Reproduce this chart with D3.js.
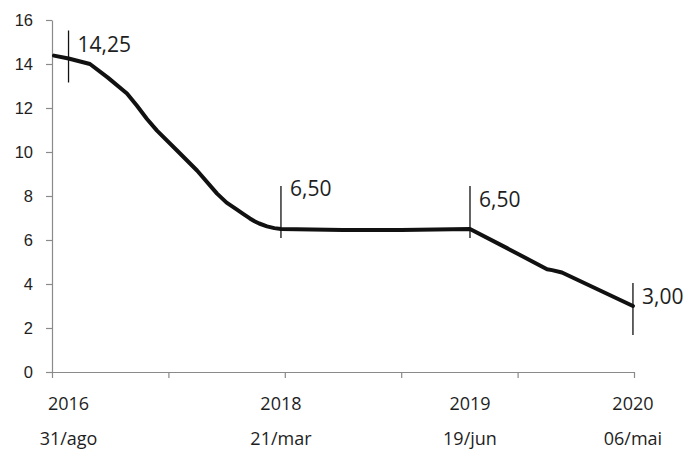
<!DOCTYPE html>
<html>
<head>
<meta charset="utf-8">
<script src="https://cdn.jsdelivr.net/npm/d3@7"></script>
<style>
  html, body { margin: 0; padding: 0; background: #fff; }
  svg { display: block; font-family: "Open Sans", "Liberation Sans", sans-serif; }
</style>
</head>
<body>
<svg id="chart" width="686" height="449"></svg>
<script>
// Selic path along a category-style axis (5 equal intervals between tick marks)
const xTicks = [0, 1, 2, 3, 4, 5];
const yTicks = [0, 2, 4, 6, 8, 10, 12, 14, 16];

// Rate curve: position along the axis and rate (% a.a.)
const pathPos  = [0.017, 0.142, 0.326, 0.48, 0.644, 0.73, 0.816, 0.902, 1.074, 1.246, 1.418, 1.50, 1.589, 1.645, 1.70, 1.74, 1.78, 1.847, 1.91, 1.967, 2.5, 3.0, 3.591, 3.909, 4.253, 4.296, 4.381, 4.991];
const pathRate = [14.38, 14.25, 14.0, 13.38, 12.66, 12.1, 11.5, 10.97, 10.07, 9.16, 8.11, 7.70, 7.38, 7.18, 6.98, 6.85, 6.75, 6.62, 6.54, 6.50, 6.45, 6.46, 6.50, 5.63, 4.67, 4.63, 4.52, 3.00];

// Highlighted decision dates
const eventPos  = [0.142, 1.967, 3.591, 4.991];
const eventRate = [14.25, 6.50, 6.50, 3.00];
const eventYear = ["2016", "2018", "2019", "2020"];
const eventDay  = ["31/ago", "21/mar", "19/jun", "06/mai"];

// Marker extents above / below the curve, in pixels
const markerReach = [[28, 24], [43, 9], [43, 9], [23, 29]];

const svg = d3.select("#chart");
const x = d3.scaleLinear().domain([0, 5]).range([52, 634]);
const y = d3.scaleLinear().domain([0, 16]).range([372, 20]);

const axisColor = "#8a8a8a";
const textColor = "#1e1e1e";
const ptBR = d3.formatLocale({ decimal: ",", thousands: ".", grouping: [3], currency: ["R$", ""] });
const fmtRate = ptBR.format(".2f");

// Y axis
const gy = svg.append("g")
  .attr("transform", `translate(${x(0)},0)`)
  .call(d3.axisLeft(y).tickValues(yTicks).tickSize(6).tickSizeOuter(0).tickPadding(13));
gy.select(".domain").attr("stroke", axisColor).attr("stroke-width", 1.2);
gy.selectAll(".tick line").attr("stroke", axisColor).attr("stroke-width", 1.2);
gy.selectAll(".tick text").attr("fill", textColor).style("font-size", "16.5px");

// X axis (tick marks only)
const gx = svg.append("g")
  .attr("transform", `translate(0,${y(0)})`)
  .call(d3.axisBottom(x).tickValues(xTicks).tickSize(6).tickSizeOuter(0).tickFormat(""));
gx.select(".domain").attr("stroke", axisColor).attr("stroke-width", 1.2);
gx.selectAll(".tick line").attr("stroke", axisColor).attr("stroke-width", 1.2);

// Date labels under the axis
const dates = svg.append("g").attr("fill", textColor).style("font-size", "18px").attr("text-anchor", "middle");
dates.selectAll("text.year").data(eventPos).join("text")
  .attr("class", "year")
  .attr("x", d => x(d))
  .attr("y", 410)
  .text((d, i) => eventYear[i]);
dates.selectAll("text.day").data(eventPos).join("text")
  .attr("class", "day")
  .attr("x", d => x(d))
  .attr("y", 445)
  .text((d, i) => eventDay[i]);

// Rate curve
const pts = pathPos.map((p, i) => [p, pathRate[i]]);
svg.append("path")
  .datum(pts)
  .attr("fill", "none")
  .attr("stroke", "#111")
  .attr("stroke-width", 4)
  .attr("stroke-linejoin", "round")
  .attr("stroke-linecap", "round")
  .attr("d", d3.line().x(d => x(d[0])).y(d => y(d[1])).curve(d3.curveLinear));

// Vertical markers with rate labels
const ev = svg.append("g");
eventPos.forEach((p, i) => {
  const cx = x(p), cy = y(eventRate[i]);
  const [up, down] = markerReach[i];
  ev.append("line")
    .attr("x1", cx).attr("x2", cx)
    .attr("y1", cy - up).attr("y2", cy + down)
    .attr("stroke", "#111").attr("stroke-width", 1.3);
  ev.append("text")
    .attr("x", cx + 9)
    .attr("y", cy - up + (i === 1 ? 10 : 21))
    .attr("fill", textColor)
    .style("font-size", "21px")
    .text(fmtRate(eventRate[i]));
});
</script>
</body>
</html>
